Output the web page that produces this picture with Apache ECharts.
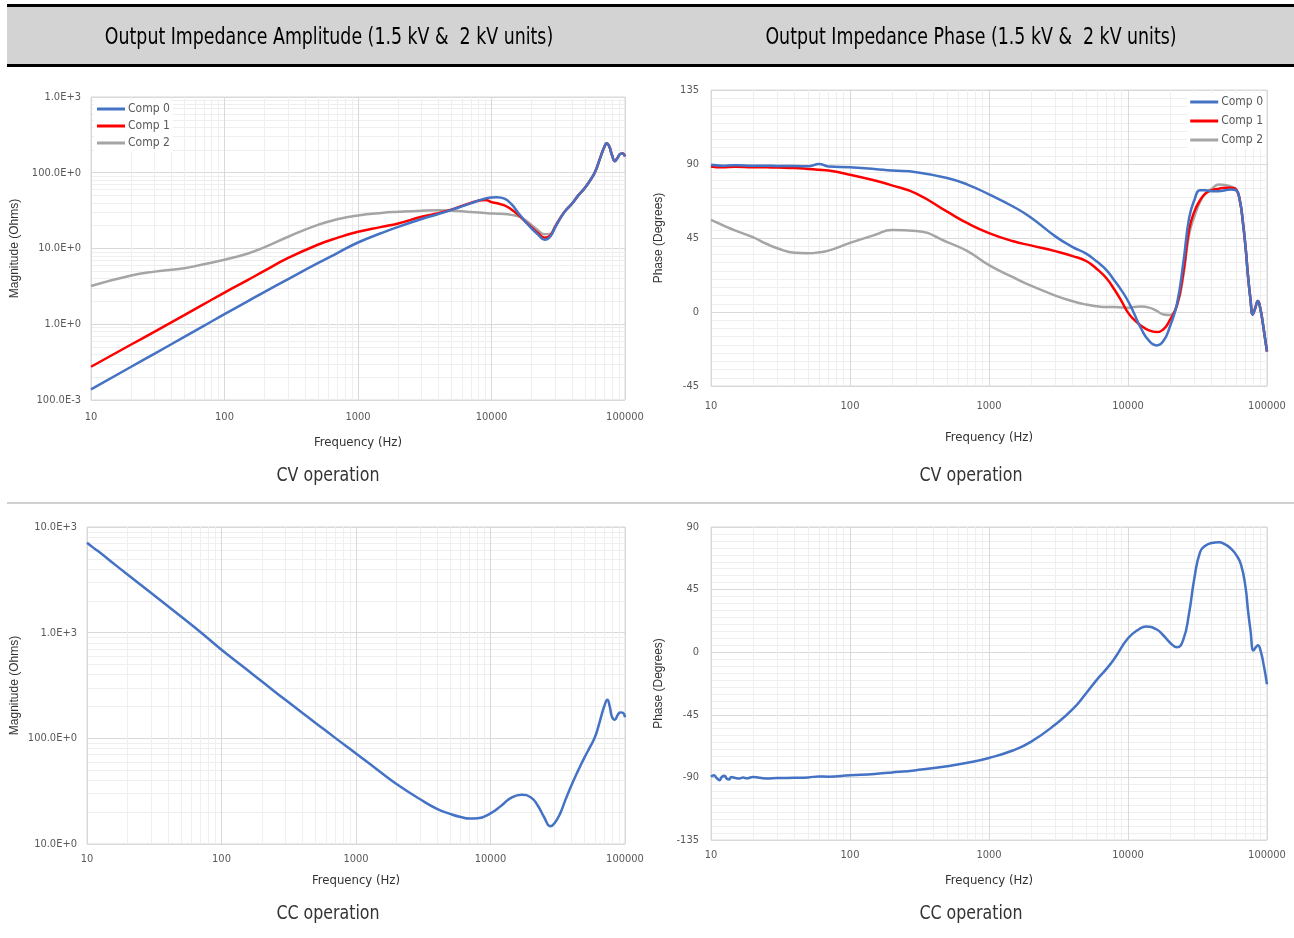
<!DOCTYPE html>
<html>
<head>
<meta charset="utf-8">
<title>Output Impedance</title>
<script src="https://cdn.jsdelivr.net/npm/echarts@6/dist/echarts.min.js"></script>
<style>
  html, body { margin: 0; padding: 0; background: #fff; }
  #main { width: 1294px; height: 938px; }
</style>
</head>
<body>
<div id="main"></div>
<script>
// CV magnitude (Ohms)
var freqCvMag = [10, 20, 30, 50, 70, 100, 150, 200, 300, 500, 700, 1000, 1500, 2000, 3000, 4000, 5000, 6000, 7000, 8000, 9000, 10000, 11000, 12500, 14000, 16000, 18000, 20000, 22500, 25000, 27500, 30000, 35000, 40000, 45000, 50000, 55000, 60000, 65000, 70000, 73000, 76000, 80000, 84000, 88000, 92000, 96000, 100000];
var comp0Mag = [0.138, 0.275, 0.41, 0.68, 0.95, 1.36, 2.02, 2.68, 3.95, 6.4, 8.7, 12.0, 16.0, 19.3, 24.5, 28.5, 32.3, 36, 39.5, 43, 45.8, 47.3, 47.6, 45.5, 39, 29, 22.5, 18.3, 15, 13, 14.3, 19, 30, 39, 51, 63, 80, 105, 155, 218, 246, 225, 170, 142, 158, 177, 180, 164];
var comp1Mag = [0.275, 0.54, 0.8, 1.32, 1.84, 2.62, 3.85, 5.1, 7.5, 11.2, 13.8, 16.6, 19.3, 21.4, 26.3, 29.2, 32.6, 36.5, 40, 42.8, 43.8, 41, 39.5, 37, 33, 27.5, 22.5, 19, 15.8, 13.9, 14.8, 19.3, 30, 39, 51, 63, 80, 105, 155, 218, 246, 225, 170, 142, 158, 177, 180, 164];
var comp2Mag = [3.2, 4.4, 4.95, 5.5, 6.2, 7.1, 8.6, 10.4, 14.3, 20.5, 24.3, 27.3, 29.5, 30.5, 31.6, 32, 31.6, 31, 30.4, 29.9, 29.4, 29, 28.8, 28.5, 27.8, 26.5, 23.5, 20.3, 17.2, 15.4, 15.6, 19.8, 30, 39, 51, 63, 80, 105, 155, 218, 246, 225, 170, 142, 158, 177, 180, 164];

// CV phase (degrees)
var freqCvPhase = [10, 12, 15, 20, 25, 30, 40, 50, 60, 70, 100, 150, 200, 300, 500, 700, 1000, 1500, 2000, 3000, 4000, 5000, 6000, 7000, 8000, 9000, 10000, 11000, 12500, 14000, 16000, 18000, 20000, 22500, 25000, 27500, 30000, 33000, 36000, 40000, 45000, 50000, 55000, 60000, 64000, 67000, 70000, 73000, 76000, 79000, 82000, 86000, 90000, 93000, 96000, 100000];
var comp0Phase = [89.5, 89, 89.3, 89, 89, 88.8, 88.8, 88.6, 90, 88.5, 88, 87, 86, 85, 81.5, 77.5, 71.5, 64, 57.5, 46, 39.5, 35.5, 30.5, 25.5, 19, 13, 6.7, -0.5, -10.5, -17, -20.3, -17.5, -9, 5, 30, 57, 68, 74, 74, 73.5, 73.5, 74, 74.5, 74, 67, 55, 40, 22, 8, -1.5, 2, 6.7, 1, -6, -14, -24];
var comp1Phase = [88.5, 88, 88.3, 88, 88, 87.8, 87.5, 87, 86.5, 86, 83.5, 80, 77, 72, 61, 54, 48, 43, 40.5, 37, 34, 31, 26, 20.5, 13.5, 6.5, -0.4, -4.5, -8.5, -11, -12.2, -10.5, -5, 4, 24, 50, 61, 68, 72, 74, 75, 75.5, 75.5, 74.5, 67, 55, 40, 22, 8, -1.5, 2, 6.7, 1, -6, -14, -24];
var comp2Phase = [56, 53, 49.5, 45.5, 41.5, 38.8, 36, 35.8, 36.3, 37.3, 42, 46.8, 49.8, 49.3, 42.5, 37, 28.5, 21, 16, 10, 6.5, 4.5, 3.5, 3, 3, 2.8, 2.6, 3, 3.3, 2.8, 0.8, -1.5, -1.8, 4, 22, 47, 58, 67, 72, 75, 77.5, 77.3, 76.2, 74.5, 67, 55, 40, 22, 8, -1.5, 2, 6.7, 1, -6, -14, -24];

// CC magnitude (Ohms)
var freqCcMag = [10, 11, 12, 15, 20, 30, 50, 70, 100, 150, 200, 300, 500, 700, 1000, 1500, 2000, 3000, 4000, 5000, 6000, 7000, 8000, 10000, 12000, 14000, 17000, 20000, 22500, 25000, 28000, 30000, 33000, 36000, 40000, 45000, 50000, 55000, 60000, 65000, 70000, 74000, 77000, 80000, 84000, 88000, 92000, 96000, 100000];
var ccMag = [7100, 6450, 5950, 4750, 3550, 2370, 1420, 1010, 690, 460, 345, 230, 140, 101, 72, 48.5, 37, 26.5, 21.5, 19.3, 18, 17.4, 17.5, 19.5, 23, 27, 29.3, 27.5, 23, 18, 14.7, 15.8, 19.5, 26, 36, 50, 66, 83, 104, 145, 200, 232, 200, 160, 150, 165, 176, 175, 158];

// CC phase (degrees)
var freqCcPhase = [10, 10.5, 11, 11.5, 12, 12.5, 13, 13.5, 14, 15, 16, 17, 18, 20, 25, 30, 40, 50, 60, 70, 100, 150, 200, 300, 500, 700, 1000, 1500, 2000, 3000, 4000, 5000, 6000, 7000, 8000, 10000, 12000, 13500, 16000, 18000, 20000, 22500, 25000, 27500, 30000, 33000, 36000, 40000, 45000, 50000, 55000, 60000, 65000, 70000, 73000, 76000, 80000, 83000, 86000, 90000, 95000, 100000];
var ccPhase = [-89.5, -88.5, -90.5, -92, -89.5, -88.8, -91, -91.5, -89.8, -90.5, -90.8, -90, -90.7, -89.8, -90.8, -90.5, -90.3, -90, -89.3, -89.5, -88.5, -87.5, -86.5, -84.8, -82, -79.5, -76, -70.5, -64.5, -52, -41, -29.5, -19.5, -12, -4.5, 10, 16.5, 18.5, 16.5, 12, 7, 3.5, 9, 28, 53, 72, 76.5, 78.5, 79, 77.5, 74.5, 70, 63, 47, 30, 16, 1.2, 3.5, 5, 1, -10, -23];

var seriesNames = ['Comp 0', 'Comp 1', 'Comp 2'];
var colors = ['#4472C4', '#FF0000', '#A5A5A5'];

var narrow = "'Liberation Sans Narrow', 'DejaVu Sans Condensed', sans-serif";
var plain = "'Liberation Sans', Arial, sans-serif";

function pairs(xs, ys) {
    return xs.map(function (x, i) { return [x, ys[i]]; });
}

// 1000 -> 1.0E+3, 100 -> 100.0E+0, 0.1 -> 100.0E-3
function engLabel(v) {
    var e = Math.floor(Math.log10(v) / 3 + 1e-9) * 3;
    var m = v / Math.pow(10, e);
    return m.toFixed(1) + 'E' + (e >= 0 ? '+' : '') + e;
}

var gridLine = { lineStyle: { color: '#d9d9d9', width: 1 } };
var minorLine = { show: true, lineStyle: { color: '#efefef', width: 1 } };

function freqAxis(gi, margin, gap) {
    return {
        type: 'log', logBase: 10, gridIndex: gi, min: 10, max: 100000,
        name: 'Frequency (Hz)', nameLocation: 'middle', nameGap: gap,
        nameTextStyle: { fontFamily: narrow, fontSize: 13, color: '#333' },
        axisLine: { show: false }, axisTick: { show: false },
        axisLabel: { margin: margin, fontFamily: narrow, fontSize: 11, color: '#595959', formatter: function (v) { return String(v); } },
        splitLine: gridLine,
        minorTick: { show: false, splitNumber: 9 },
        minorSplitLine: minorLine
    };
}

function magAxis(gi, min, max, gap) {
    return {
        type: 'log', logBase: 10, gridIndex: gi, min: min, max: max,
        name: 'Magnitude (Ohms)', nameLocation: 'middle', nameGap: gap,
        nameTextStyle: { fontFamily: plain, fontSize: 12, color: '#333' },
        axisLine: { show: false }, axisTick: { show: false },
        axisLabel: { margin: 10, fontFamily: narrow, fontSize: 11, color: '#595959', formatter: engLabel },
        splitLine: gridLine,
        minorTick: { show: false, splitNumber: 9 },
        minorSplitLine: minorLine
    };
}

function phaseAxis(gi, min, max, gap) {
    return {
        type: 'value', gridIndex: gi, min: min, max: max, interval: 45,
        name: 'Phase (Degrees)', nameLocation: 'middle', nameGap: gap,
        nameTextStyle: { fontFamily: plain, fontSize: 12, color: '#333' },
        axisLine: { show: false }, axisTick: { show: false },
        axisLabel: { margin: 12, fontFamily: narrow, fontSize: 11, color: '#595959' },
        splitLine: gridLine,
        minorTick: { show: false, splitNumber: 9 },
        minorSplitLine: minorLine
    };
}

function line(name, gi, data, color) {
    return {
        name: name, type: 'line', xAxisIndex: gi, yAxisIndex: gi,
        data: data, showSymbol: false, smooth: 0.5,
        lineStyle: { color: color, width: 2.5 }, itemStyle: { color: color },
        emphasis: { disabled: true }
    };
}

function caption(text, x, y, size, sx, color) {
    return {
        type: 'text', x: x, y: y, scaleX: sx,
        style: { text: text, fontFamily: narrow, fontSize: size, fill: color, align: 'center', verticalAlign: 'middle' }
    };
}

var legendBase = {
    orient: 'vertical', icon: 'rect', itemWidth: 28, itemHeight: 3,
    backgroundColor: '#fff', padding: [3, 3, 3, 3],
    textStyle: { fontFamily: narrow, fontSize: 12, color: '#595959', padding: [0, 0, 0, -2] },
    data: seriesNames
};

var myChart = echarts.init(document.getElementById('main'));
var option = {
    animation: false,
    backgroundColor: '#fff',
    graphic: [
        { type: 'rect', shape: { x: 7, y: 6, width: 1287, height: 59 }, style: { fill: '#d3d3d3' } },
        { type: 'rect', shape: { x: 7, y: 4, width: 1287, height: 3 }, style: { fill: '#000' } },
        { type: 'rect', shape: { x: 7, y: 64, width: 1287, height: 3 }, style: { fill: '#000' } },
        { type: 'rect', shape: { x: 7, y: 502, width: 1287, height: 2 }, style: { fill: '#d0d0d0' } },
        caption('Output Impedance Amplitude (1.5 kV &  2 kV units)', 329, 38, 23, 0.84, '#000'),
        caption('Output Impedance Phase (1.5 kV &  2 kV units)', 971, 38, 23, 0.84, '#000'),
        caption('CV operation', 328, 476, 20, 0.88, '#333'),
        caption('CV operation', 971, 476, 20, 0.88, '#333'),
        caption('CC operation', 328, 914, 20, 0.88, '#333'),
        caption('CC operation', 971, 914, 20, 0.88, '#333')
    ],
    legend: [
        Object.assign({}, legendBase, { left: 94, top: 100, itemGap: 5 }),
        Object.assign({}, legendBase, { right: 28, top: 93, itemGap: 7 })
    ],
    grid: [
        { left: 91, top: 97, width: 534, height: 303, show: true, borderColor: '#d9d9d9', borderWidth: 1 },
        { left: 711, top: 90, width: 556, height: 296, show: true, borderColor: '#d9d9d9', borderWidth: 1 },
        { left: 87, top: 527, width: 538, height: 317, show: true, borderColor: '#d9d9d9', borderWidth: 1 },
        { left: 711, top: 527, width: 556, height: 313, show: true, borderColor: '#d9d9d9', borderWidth: 1 }
    ],
    xAxis: [
        freqAxis(0, 12, 36),
        freqAxis(1, 15, 45),
        freqAxis(2, 10, 30),
        freqAxis(3, 10, 34)
    ],
    yAxis: [
        magAxis(0, 0.1, 1000, 70),
        phaseAxis(1, -45, 135, 46),
        magAxis(2, 10, 10000, 66),
        phaseAxis(3, -135, 90, 46)
    ],
    series: [
        line('Comp 2', 0, pairs(freqCvMag, comp2Mag), colors[2]),
        line('Comp 1', 0, pairs(freqCvMag, comp1Mag), colors[1]),
        line('Comp 0', 0, pairs(freqCvMag, comp0Mag), colors[0]),
        line('Comp 2', 1, pairs(freqCvPhase, comp2Phase), colors[2]),
        line('Comp 1', 1, pairs(freqCvPhase, comp1Phase), colors[1]),
        line('Comp 0', 1, pairs(freqCvPhase, comp0Phase), colors[0]),
        line('CC magnitude', 2, pairs(freqCcMag, ccMag), colors[0]),
        line('CC phase', 3, pairs(freqCcPhase, ccPhase), colors[0])
    ]
};

myChart.setOption(option);
window.addEventListener('resize', function () {
    myChart.resize();
});
</script>
</body>
</html>
